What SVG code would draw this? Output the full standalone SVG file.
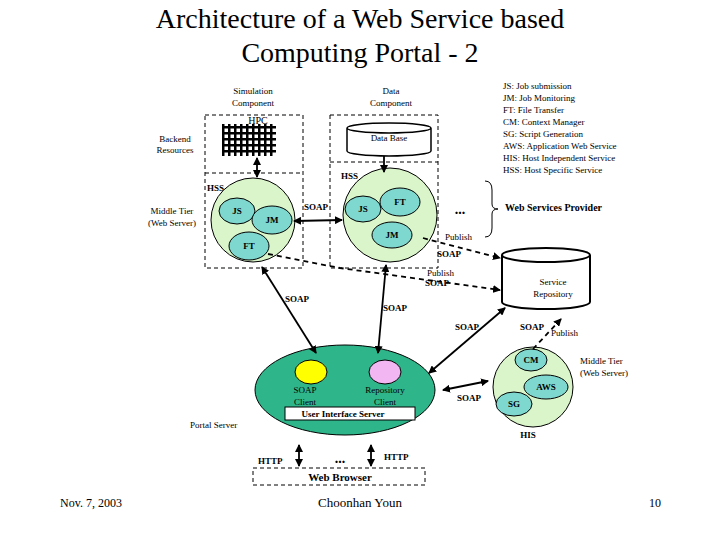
<svg xmlns="http://www.w3.org/2000/svg" width="720" height="540" viewBox="0 0 720 540">
<defs>
<marker id="a" markerWidth="8" markerHeight="8" refX="7" refY="4" orient="auto-start-reverse" markerUnits="userSpaceOnUse"><path d="M0,0L8,4L0,8z" fill="#000"/></marker>
<pattern id="g" width="6" height="6" patternUnits="userSpaceOnUse"><rect width="6" height="6" fill="#fff"/><rect width="6" height="2.5" fill="#000"/><rect width="2.5" height="6" fill="#000"/></pattern>
</defs>
<style>
text{font-family:"Liberation Serif",serif;font-size:9px;fill:#000}
.b{font-weight:bold}
.c{text-anchor:middle}
.dash{fill:none;stroke:#000;stroke-dasharray:4,3}
.big{fill:#d9f5c9;stroke:#000;stroke-width:1}
.in{fill:#7fd8cf;stroke:#000;stroke-width:1}
.ln{stroke:#000;stroke-width:1.8;fill:none}
.dl{stroke:#000;stroke-width:1.8;fill:none;stroke-dasharray:5,4}
</style>
<rect width="720" height="540" fill="#fff"/>
<text x="360" y="28" class="c" style="font-size:28px">Architecture of a Web Service based</text>
<text x="360" y="62" class="c" style="font-size:28px">Computing Portal - 2</text>
<g id="legend">
<text x="503" y="89">JS: Job submission</text>
<text x="503" y="101">JM: Job Monitoring</text>
<text x="503" y="113">FT: File Transfer</text>
<text x="503" y="125">CM: Context Manager</text>
<text x="503" y="137">SG: Script Generation</text>
<text x="503" y="149">AWS: Application Web Service</text>
<text x="503" y="161">HIS: Host Independent Service</text>
<text x="503" y="173">HSS: Host Specific Service</text>
</g>
<g id="labels">
<text x="253" y="94" class="c">Simulation</text><text x="253" y="106" class="c">Component</text>
<text x="391" y="94" class="c">Data</text><text x="391" y="106" class="c">Component</text>
<text x="175" y="142" class="c">Backend</text><text x="175" y="153" class="c">Resources</text>
<text x="172" y="214" class="c">Middle Tier</text><text x="172" y="226" class="c">(Web Server)</text>
<text x="190" y="428">Portal Server</text>
</g>
<g id="simulation">
<rect x="205" y="115" width="98" height="153" class="dash"/>
<line x1="205" y1="173" x2="303" y2="173" class="dash"/>
<rect x="222" y="124" width="54" height="32" fill="url(#g)"/>
<text x="258" y="124" class="c" style="font-size:10px">HPC</text>
<text x="207" y="191" class="b">HSS</text>
<circle cx="253" cy="220" r="42" class="big"/>
<ellipse cx="237" cy="211" rx="18" ry="13" class="in"/><text x="237" y="214" class="c b">JS</text>
<ellipse cx="272" cy="220" rx="20" ry="14" class="in"/><text x="272" y="223" class="c b">JM</text>
<ellipse cx="249" cy="246" rx="20" ry="14" class="in"/><text x="249" y="249" class="c b">FT</text>
</g>
<g id="data">
<rect x="330" y="115" width="108" height="153" class="dash"/>
<line x1="330" y1="162" x2="438" y2="162" class="dash"/>
<path d="M347,128 V151 A42,5 0 0 0 431,151 V128 A42,5 0 0 0 347,128 A42,5 0 0 0 431,128" fill="#fff" stroke="#000" stroke-width="1.5"/>
<text x="389" y="141" class="c">Data Base</text>
<text x="341" y="179" class="b">HSS</text>
<circle cx="390" cy="215" r="47" class="big"/>
<ellipse cx="363" cy="209" rx="18" ry="13" class="in"/><text x="363" y="212" class="c b">JS</text>
<ellipse cx="400" cy="202" rx="20" ry="14" class="in"/><text x="400" y="205" class="c b">FT</text>
<ellipse cx="392" cy="235" rx="20" ry="13" class="in"/><text x="392" y="238" class="c b">JM</text>
</g>
<g id="provider">
<text x="460" y="214" class="c b" style="font-size:14px">...</text>
<path d="M485,181 Q492,181 492,190 V204 Q492,209 498,209 Q492,209 492,214 V228 Q492,237 485,237" fill="none" stroke="#000"/>
<text x="505" y="211" class="b" style="font-size:10px">Web Services Provider</text>
</g>
<g id="repository">
<path d="M502,255 V302 A44,7 0 0 0 590,302 V255 A44,7 0 0 0 502,255 A44,7 0 0 0 590,255" fill="#fff" stroke="#000" stroke-width="2"/>
<text x="553" y="285" class="c">Service</text><text x="553" y="297" class="c">Repository</text>
</g>
<g id="portal">
<ellipse cx="345" cy="390" rx="90" ry="45" fill="#2fb58a" stroke="#000"/>
<ellipse cx="311" cy="372" rx="16" ry="12" fill="#ffff00" stroke="#000"/>
<ellipse cx="385" cy="372" rx="16" ry="12" fill="#f2b7f2" stroke="#000"/>
<text x="305" y="393" class="c">SOAP</text><text x="305" y="405" class="c">Client</text>
<text x="385" y="393" class="c">Repository</text><text x="385" y="405" class="c">Client</text>
<rect x="285" y="407" width="130" height="13" fill="#fff" stroke="#000"/>
<text x="343" y="417" class="c b">User Interface Server</text>
</g>
<g id="his">
<circle cx="533" cy="387" r="40" class="big"/>
<ellipse cx="531" cy="360" rx="16" ry="11" class="in"/><text x="531" y="363" class="c b">CM</text>
<ellipse cx="546" cy="387" rx="22" ry="12" class="in"/><text x="546" y="390" class="c b">AWS</text>
<ellipse cx="514" cy="404" rx="18" ry="12" class="in"/><text x="514" y="407" class="c b">SG</text>
<text x="580" y="364">Middle Tier</text><text x="580" y="376">(Web Server)</text>
<text x="528" y="438" class="c b">HIS</text>
</g>
<g id="browser">
<rect x="253" y="468" width="172" height="17" class="dash"/>
<text x="340" y="481" class="c b" style="font-size:11px">Web Browser</text>
<text x="340" y="463" class="c b" style="font-size:14px">...</text>
<text x="258" y="464" class="b">HTTP</text>
<text x="384" y="460" class="b">HTTP</text>
</g>
<g id="connectors">
<line x1="257" y1="158" x2="257" y2="177" class="ln" marker-start="url(#a)" marker-end="url(#a)"/>
<line x1="384" y1="156" x2="384" y2="172" class="ln" marker-end="url(#a)"/>
<line x1="294" y1="221" x2="342" y2="220" class="ln" marker-start="url(#a)" marker-end="url(#a)"/>
<text x="304" y="210" class="b">SOAP</text>
<path d="M423,238 L500,258" class="dl" marker-end="url(#a)"/>
<text x="445" y="240">Publish</text>
<text x="437" y="257" class="b">SOAP</text>
<path d="M268,254 L340,268 L500,290" class="dl" marker-end="url(#a)"/>
<text x="427" y="276">Publish</text><text x="425" y="286" class="b">SOAP</text>
<line x1="262" y1="267" x2="316" y2="353" class="ln" marker-start="url(#a)" marker-end="url(#a)"/>
<text x="285" y="302" class="b">SOAP</text>
<line x1="386" y1="265" x2="378" y2="353" class="ln" marker-start="url(#a)" marker-end="url(#a)"/>
<text x="383" y="311" class="b">SOAP</text>
<line x1="429" y1="373" x2="505" y2="308" class="ln" marker-start="url(#a)" marker-end="url(#a)"/>
<text x="455" y="330" class="b">SOAP</text>
<line x1="443" y1="390" x2="488" y2="381" class="ln" marker-start="url(#a)" marker-end="url(#a)"/>
<text x="457" y="401" class="b">SOAP</text>
<line x1="533" y1="349" x2="561" y2="319" class="dl" marker-end="url(#a)"/>
<text x="520" y="330" class="b">SOAP</text><text x="551" y="336">Publish</text>
<line x1="299" y1="445" x2="299" y2="466" class="ln" marker-start="url(#a)" marker-end="url(#a)"/>
<line x1="371" y1="445" x2="371" y2="466" class="ln" marker-start="url(#a)" marker-end="url(#a)"/>
</g>
<g id="footer">
<text x="60" y="507" style="font-size:12px">Nov. 7, 2003</text>
<text x="360" y="507" class="c" style="font-size:13px">Choonhan Youn</text>
<text x="655" y="507" class="c" style="font-size:12px">10</text>
</g>
</svg>
